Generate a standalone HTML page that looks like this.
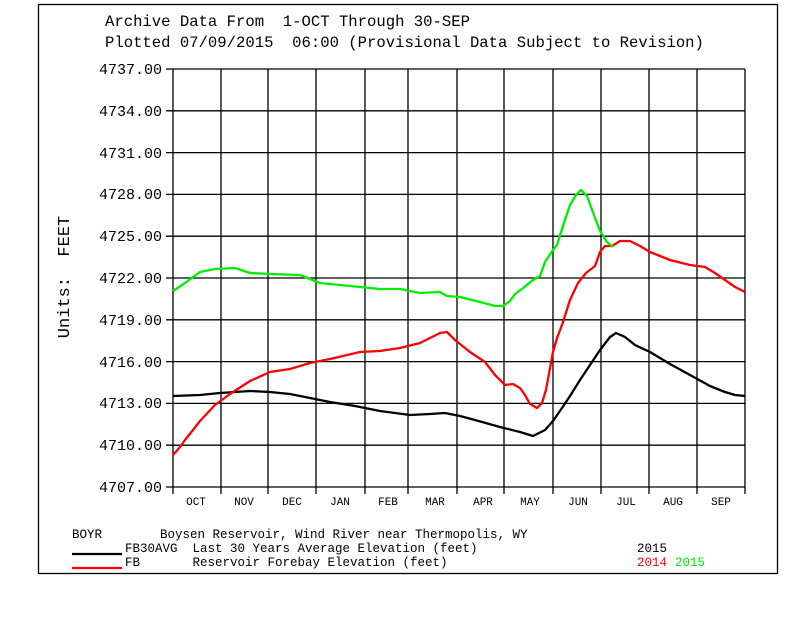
<!DOCTYPE html>
<html><head><style>
body{margin:0;background:#fff;}
svg text{font-family:"Liberation Mono",monospace;fill:#000;white-space:pre;}
</style></head><body>
<svg width="792" height="612" xmlns="http://www.w3.org/2000/svg" xml:space="preserve">
<rect x="38.5" y="4.5" width="739" height="569" fill="none" stroke="#000" stroke-width="1.3"/>
<text x="105" y="26" font-size="15.6">Archive Data From  1-OCT Through 30-SEP</text>
<text x="105" y="47" font-size="15.6">Plotted 07/09/2015  06:00 (Provisional Data Subject to Revision)</text>
<g stroke="#000" stroke-width="1.3" fill="none">
<path d="M173 69H745M173 110.8H745M173 152.6H745M173 194.4H745M173 236.2H745M173 278H745M173 319.8H745M173 361.6H745M173 403.4H745M173 445.2H745M173 487H745"/>
<path d="M166 69H173M166 110.8H173M166 152.6H173M166 194.4H173M166 236.2H173M166 278H173M166 319.8H173M166 361.6H173M166 403.4H173M166 445.2H173M166 487H173"/>
<path d="M173 69V494M221 69V494M268 69V494M316 69V494M365 69V494M408 69V494M457 69V494M504 69V494M553 69V494M601 69V494M649 69V494M697 69V494M745 69V494"/>
</g>
<g font-size="15" text-anchor="end">
<text x="162" y="74">4737.00</text><text x="162" y="116">4734.00</text><text x="162" y="158">4731.00</text><text x="162" y="199">4728.00</text><text x="162" y="241">4725.00</text><text x="162" y="283">4722.00</text><text x="162" y="325">4719.00</text><text x="162" y="367">4716.00</text><text x="162" y="408">4713.00</text><text x="162" y="450">4710.00</text><text x="162" y="492">4707.00</text>
</g>
<g font-size="11" text-anchor="middle">
<text x="196" y="505">OCT</text><text x="244" y="505">NOV</text><text x="292" y="505">DEC</text><text x="340" y="505">JAN</text><text x="388" y="505">FEB</text><text x="435" y="505">MAR</text><text x="483" y="505">APR</text><text x="530" y="505">MAY</text><text x="578" y="505">JUN</text><text x="626" y="505">JUL</text><text x="673" y="505">AUG</text><text x="721" y="505">SEP</text>
</g>
<text transform="translate(69,277) rotate(-90)" font-size="17" text-anchor="middle">Units:  FEET</text>
<g fill="none" stroke-width="2.3" stroke-linejoin="round">
<polyline stroke="#000" points="173,396 200,395 220,393 250,391 270,392 290,394 310,398 330,402 355,406 380,411 410,415 430,414 445,413 460,416 475,420 500,427 520,432 533,436 545,430 553,421 562,408 570,396 580,380 590,365 600,350 610,337 616,333 625,337 635,345 650,352 670,364 690,375 710,386 725,392 735,395 745,396"/>
<polyline stroke="#f00" points="173,455 180,447 185,440 193,430 200,421 215,405 230,394 250,381 270,372 290,369 310,363 330,359 360,352 380,351 400,348 420,343 432,337 440,333 447,332 455,340 470,352 485,362 495,375 505,385 513,384 520,388 525,395 530,404 537,408 542,403 546,390 550,368 553,352 557,338 562,325 570,300 578,283 586,273 595,266 600,252 605,246 612,246 620,241 630,241 640,246 650,252 660,256 670,260 690,265 705,267 715,273 725,280 735,287 745,292"/>
<polyline stroke="#0e0" points="173,291 185,283 200,272 215,269 235,268 250,273 270,274 300,275 320,283 350,286 380,289 400,289 420,293 440,292 447,296 460,297 480,302 495,306 503,306 510,301 515,294 522,289 533,280 540,276 545,262 553,250 557,245 563,226 570,205 576,195 581,190 587,196 594,215 600,231 607,242 613,247"/>
</g>
<g font-size="12.5">
<text x="72" y="538">BOYR</text>
<text x="160" y="538">Boysen Reservoir, Wind River near Thermopolis, WY</text>
<text x="125" y="552">FB30AVG  Last 30 Years Average Elevation (feet)</text>
<text x="125" y="566">FB       Reservoir Forebay Elevation (feet)</text>
<text x="637" y="552">2015</text>
<text x="637" y="566" style="fill:#f00">2014</text>
<text x="675" y="566" style="fill:#0e0">2015</text>
</g>
<line x1="72" y1="554" x2="122" y2="554" stroke="#000" stroke-width="2.3"/>
<line x1="72" y1="568" x2="122" y2="568" stroke="#f00" stroke-width="2.3"/>
</svg>
</body></html>
